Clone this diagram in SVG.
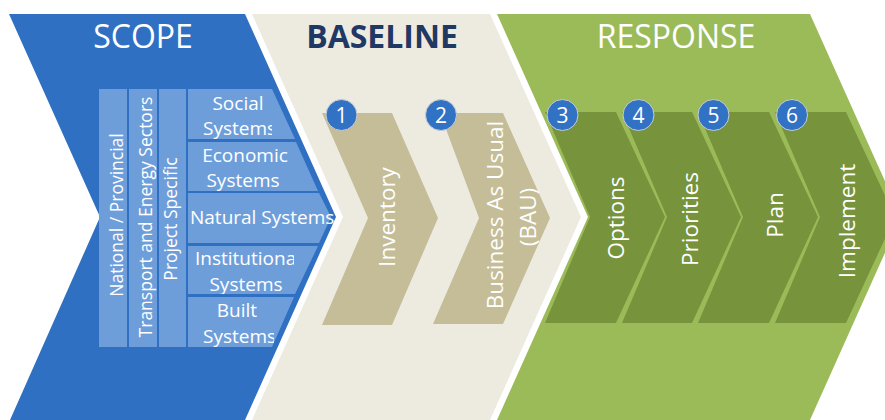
<svg xmlns="http://www.w3.org/2000/svg" width="885" height="420" viewBox="0 0 885 420">
<defs>
<style>
.t{font-family:"Open Sans","Liberation Sans",sans-serif;fill:#fff}
.title{font-size:32px;text-anchor:middle}
.row{font-size:19px}
.col{font-size:17.5px;text-anchor:middle}
.step{font-size:22.5px;text-anchor:middle}
.num{font-size:21px;text-anchor:middle}
.box{fill:#6E9EDA}
.bei{fill:#C4BD98}
.grn{fill:#77933C}
.circ{fill:#3172C4;stroke:#C8CCD4;stroke-width:1}
</style>
<clipPath id="cSocial"><rect x="188" y="89" width="84" height="50"/></clipPath>
<clipPath id="cEcon"><rect x="188" y="142" width="108" height="49"/></clipPath>
<clipPath id="cNat"><rect x="188" y="193" width="146" height="50"/></clipPath>
<clipPath id="cInst"><rect x="188" y="246" width="106" height="48"/></clipPath>
<clipPath id="cBuilt"><rect x="188" y="297" width="86" height="50"/></clipPath>
</defs>
<rect width="885" height="420" fill="#fff"/>

<g id="scope">
<polygon points="9,14 245,14 336,217 245,420 10,420 100,217" fill="#3070C2"/>
<text class="t title" x="143" y="48">SCOPE</text>
<g id="col-national"><rect class="box" x="99" y="89" width="28" height="258"/>
<text class="t col" transform="translate(123,215) rotate(-90)">National / Provincial</text></g>
<g id="col-transport"><rect class="box" x="129" y="89" width="28" height="258"/>
<text class="t col" transform="translate(152,217) rotate(-90)">Transport and Energy Sectors</text></g>
<g id="col-project"><rect class="box" x="159" y="89" width="27" height="258"/>
<text class="t col" transform="translate(177,219) rotate(-90)">Project Specific</text></g>
<g id="row-social"><polygon class="box" points="188,89 272,89 295,139 188,139"/>
<g clip-path="url(#cSocial)"><text class="t row" x="238" y="110" text-anchor="middle">Social</text><text class="t row" x="203" y="135">Systems</text></g></g>
<g id="row-economic"><polygon class="box" points="188,142 296,142 318,191 188,191"/>
<g clip-path="url(#cEcon)"><text class="t row" x="245" y="162" text-anchor="middle">Economic</text><text class="t row" x="243" y="187" text-anchor="middle">Systems</text></g></g>
<g id="row-natural"><polygon class="box" points="188,193 319,193 331,217 319,243 188,243"/>
<g clip-path="url(#cNat)"><text class="t row" x="190" y="224">Natural Systems</text></g></g>
<g id="row-institutional"><polygon class="box" points="188,246 318,246 295,294 188,294"/>
<g clip-path="url(#cInst)"><text class="t row" x="195" y="265">Institutional</text><text class="t row" x="246" y="291" text-anchor="middle">Systems</text></g></g>
<g id="row-built"><polygon class="box" points="188,297 294,297 272,347 188,347"/>
<g clip-path="url(#cBuilt)"><text class="t row" x="237" y="317" text-anchor="middle">Built</text><text class="t row" x="203" y="343">Systems</text></g></g>
</g>

<g id="baseline">
<polygon points="252,14 490,14 581,217 490,420 252,420 343,217" fill="#EDEBE0"/>
<text x="382" y="48" font-family="'Open Sans','Liberation Sans',sans-serif" font-size="32" font-weight="bold" fill="#1F3864" text-anchor="middle">BASELINE</text>
</g>

<g id="response">
<polygon points="497,14 810,14 901,217 810,420 497,420 588,217" fill="#9BBB59"/>
<text class="t title" x="676" y="48">RESPONSE</text>
</g>

<g id="step1-inventory">
<polygon class="bei" points="322,113 392,113 438,218 392,325 322,325 368,218"/>
<text class="t step" transform="translate(395,217) rotate(-90)">Inventory</text>
<circle class="circ" cx="341.5" cy="115" r="15.5"/><text class="t num" x="341.5" y="122.5">1</text>
</g>
<g id="step2-bau">
<polygon class="bei" points="440,113 503,113 550,218 503,324 433,324 479,218"/>
<text class="t step" transform="translate(503,215) rotate(-90)">Business As Usual</text>
<text class="t step" transform="translate(536,217) rotate(-90)">(BAU)</text>
<circle class="circ" cx="441" cy="115" r="15.5"/><text class="t num" x="441" y="122.5">2</text>
</g>
<g id="step3-options">
<polygon class="grn" points="545,112 616,112 665,217 616,323 545,323 590,217"/>
<text class="t step" transform="translate(624,218) rotate(-90)">Options</text>
<circle class="circ" cx="562.5" cy="115" r="15.5"/><text class="t num" x="562.5" y="122.5">3</text>
</g>
<g id="step4-priorities">
<polygon class="grn" points="622,112 692,112 741,217 692,323 622,323 667,217"/>
<text class="t step" transform="translate(698,219) rotate(-90)">Priorities</text>
<circle class="circ" cx="638.5" cy="115" r="15.5"/><text class="t num" x="638.5" y="122.5">4</text>
</g>
<g id="step5-plan">
<polygon class="grn" points="698,112 769,112 818,217 769,323 698,323 743,217"/>
<text class="t step" transform="translate(783,215) rotate(-90)">Plan</text>
<circle class="circ" cx="713.5" cy="115" r="15.5"/><text class="t num" x="713.5" y="122.5">5</text>
</g>
<g id="step6-implement">
<polygon class="grn" points="775,112 846,112 895,217 846,323 775,323 820,217"/>
<text class="t step" transform="translate(855,221) rotate(-90)">Implement</text>
<circle class="circ" cx="792" cy="115" r="15.5"/><text class="t num" x="792" y="122.5">6</text>
</g>
<g id="connectors"></g>
</svg>
